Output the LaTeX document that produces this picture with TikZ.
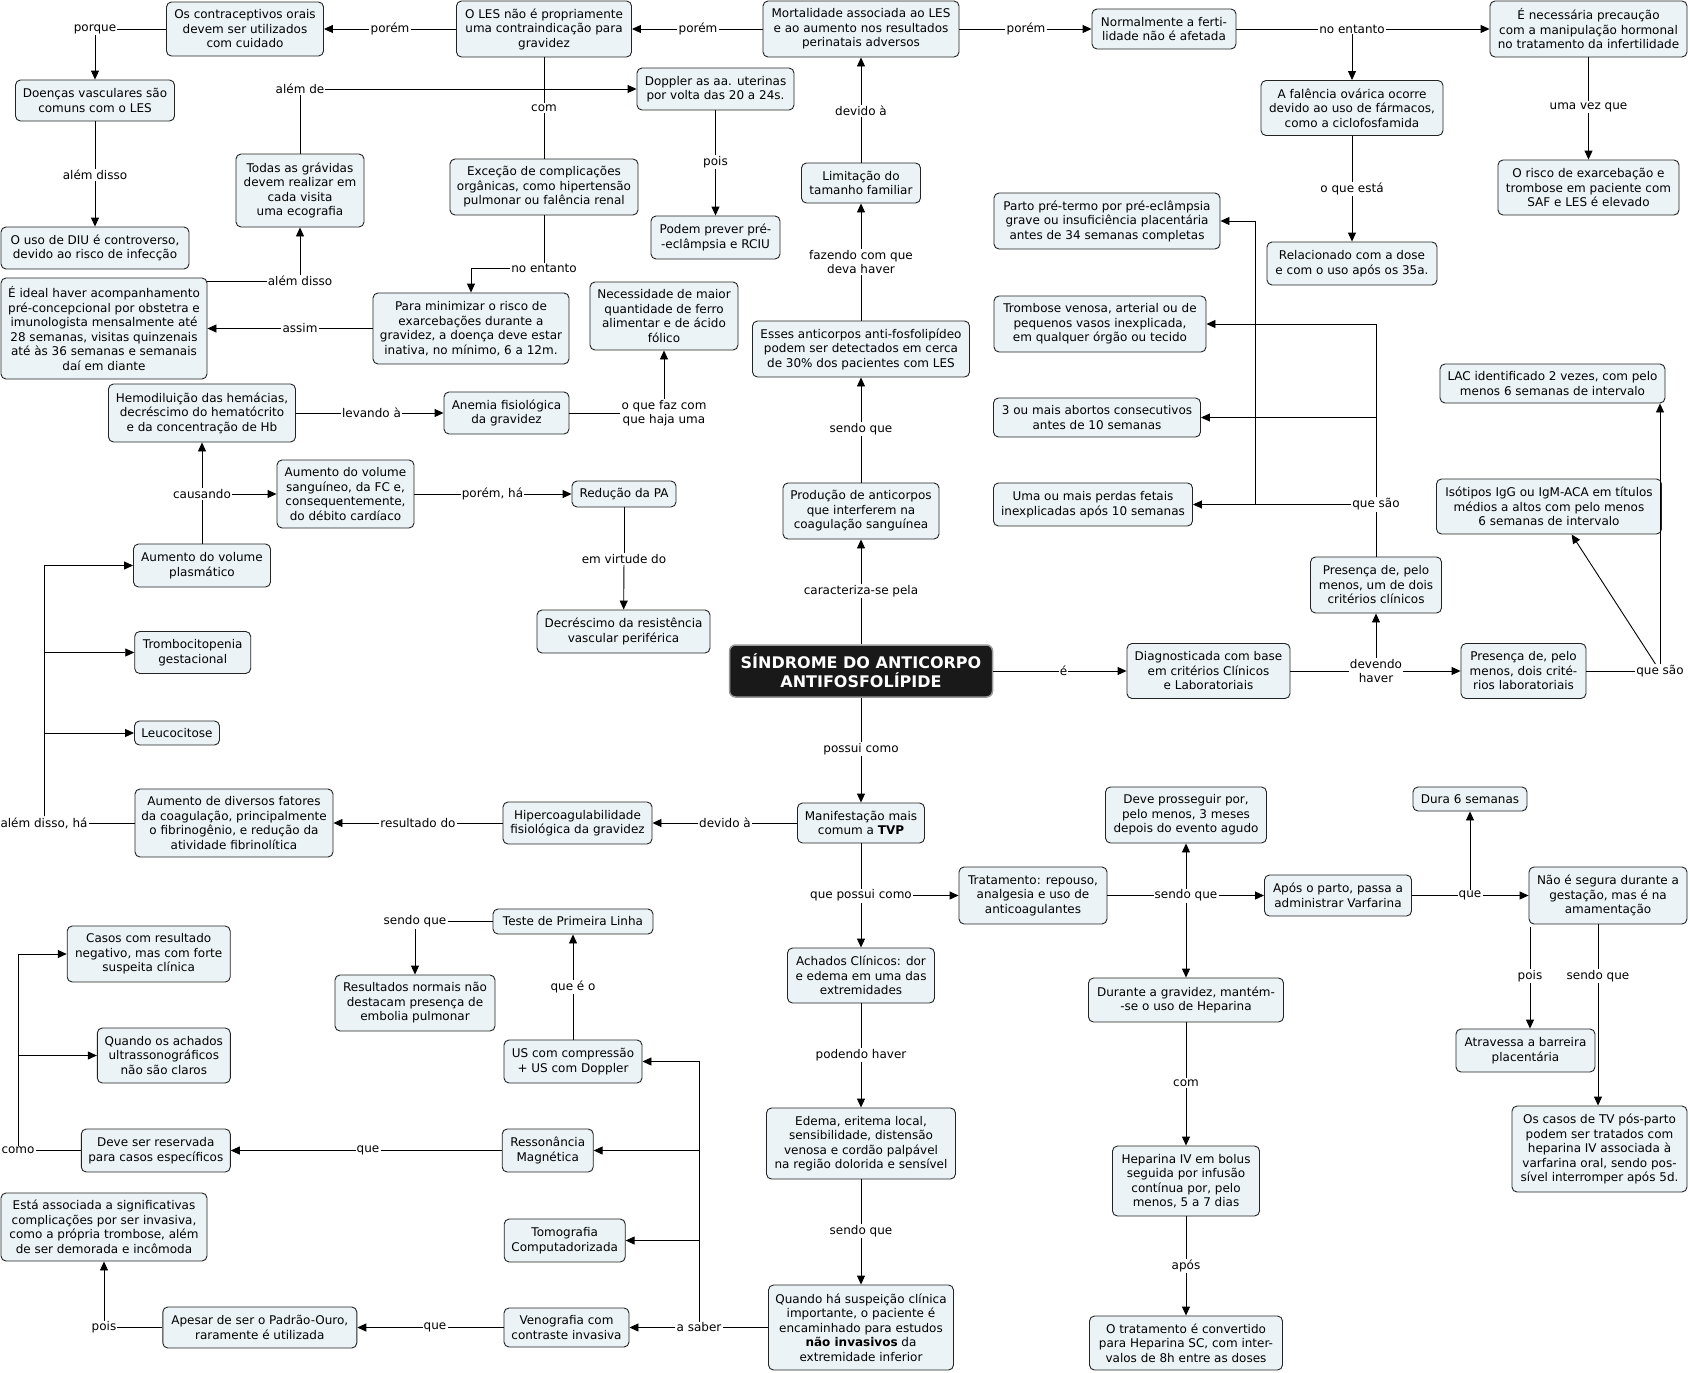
\documentclass[tikz,border=0pt]{standalone}
\usepackage{fontspec}
\setmainfont{DejaVu Sans}
\usepackage{tikz}
\usetikzlibrary{arrows.meta}
\definecolor{boxfill}{RGB}{235,243,246}
\definecolor{boxline}{RGB}{35,35,35}

\tikzset{
  cbox/.style={draw=boxline, fill=boxfill, rounded corners=5pt, align=center, inner sep=1pt, line width=0.9pt},
  saf/.style={draw=black!40, fill=black!90, text=white, rounded corners=6pt, align=center, line width=1.5pt,
    font=\fontsize{16}{19}\selectfont\bfseries},
  wh/.style 2 args={minimum width=#1pt, minimum height=#2pt},
  lbl/.style={fill=white, inner sep=1pt, align=center},
  link/.style={line width=0.9pt},
  arr/.style={link, -{Triangle[length=9pt,width=8pt]}},
}

\begin{document}
\begin{tikzpicture}[x=1pt, y=-1pt, font=\fontsize{12}{14.5}\selectfont]
    \useasboundingbox (0,0) rectangle (1690,1373);

    % central concept
    \node[saf, wh={263}{52}] (saf) at (861,671) {SÍNDROME DO ANTICORPO\\ANTIFOSFOLÍPIDE};

    % top row
    \node[cbox, wh={157}{54}] (contra) at (245,29) {Os contraceptivos orais\\devem ser utilizados\\com cuidado};
    \node[cbox, wh={175}{56}] (les) at (544,29) {O LES não é propriamente\\uma contraindicação para\\gravidez};
    \node[cbox, wh={196}{56}] (mort) at (861,29) {Mortalidade associada ao LES\\e ao aumento nos resultados\\perinatais adversos};
    \node[cbox, wh={144}{40}] (normal) at (1164,29) {Normalmente a ferti-\\lidade não é afetada};
    \node[cbox, wh={197}{56}] (precau) at (1588.5,29) {É necessária precaução\\com a manipulação hormonal\\no tratamento da infertilidade};

    \node[lbl] (lporque) at (95,29) {porque};
    \node[lbl] (lporem1) at (390,29) {porém};
    \node[lbl] (lporem2) at (698,29) {porém};
    \node[lbl] (lporem3) at (1026,29) {porém};
    \node[lbl] (lnoent2) at (1352,29) {no entanto};

    \draw[link] (mort) -- (lporem2);
    \draw[arr] (lporem2) -- (les);
    \draw[link] (les) -- (lporem1);
    \draw[arr] (lporem1) -- (contra);
    \draw[link] (contra) -- (lporque);
    \draw[link] (mort) -- (lporem3);
    \draw[arr] (lporem3) -- (normal);
    \draw[link] (normal) -- (lnoent2);
    \draw[arr] (lnoent2) -- (precau);

    % LES branch
    \node[cbox, wh={159}{41}] (doencas) at (95,100.5) {Doenças vasculares são\\comuns com o LES};
    \node[lbl] (lalem1) at (95,175) {além disso};
    \node[cbox, wh={188}{42}] (diu) at (95,248) {O uso de DIU é controverso,\\devido ao risco de infecção};
    \draw[arr] (lporque) -- (doencas);
    \draw[link] (doencas) -- (lalem1);
    \draw[arr] (lalem1) -- (diu);

    \node[lbl] (lcom) at (544,108) {com};
    \node[cbox, wh={188}{56}] (excecao) at (544,187) {Exceção de complicações\\orgânicas, como hipertensão\\pulmonar ou falência renal};
    \node[lbl] (lnoent1) at (544,268) {no entanto};
    \node[cbox, wh={196}{71}] (minim) at (471,328.5) {Para minimizar o risco de\\exarcebações durante a\\gravidez, a doença deve estar\\inativa, no mínimo, 6 a 12m.};
    \node[lbl] (lassim) at (300,328.5) {assim};
    \node[cbox, wh={206}{101}] (ideal) at (104,328.5) {É ideal haver acompanhamento\\pré-concepcional por obstetra e\\imunologista mensalmente até\\28 semanas, visitas quinzenais\\até às 36 semanas e semanais\\daí em diante};
    \node[lbl] (lalem2) at (300,281) {além disso};
    \node[cbox, wh={128}{73}] (todas) at (300,190.5) {Todas as grávidas\\devem realizar em\\cada visita\\uma ecografia};
    \node[lbl] (lalemde) at (300,89) {além de};
    \node[cbox, wh={157}{42}] (doppler) at (715.5,89) {Doppler as aa. uterinas\\por volta das 20 a 24s.};
    \node[lbl] (lpois1) at (715.5,162) {pois};
    \node[cbox, wh={129}{43}] (podem) at (715.5,237.5) {Podem prever pré-\\-eclâmpsia e RCIU};

    \draw[link] (les) -- (lcom);
    \draw[link] (lcom) -- (excecao);
    \draw[link] (excecao) -- (lnoent1);
    \draw[arr] (lnoent1) -| (minim);
    \draw[link] (minim) -- (lassim);
    \draw[arr] (lassim) -- (ideal);
    \draw[link] (lalem2) -- (lalem2 -| ideal.east);
    \draw[arr] (lalem2) -- (todas);
    \draw[link] (todas) -- (lalemde);
    \draw[arr] (lalemde) -- (doppler);
    \draw[link] (doppler) -- (lpois1);
    \draw[arr] (lpois1) -- (podem);

    % fertility branch
    \node[cbox, wh={182}{55}] (falencia) at (1352,108) {A falência ovárica ocorre\\devido ao uso de fármacos,\\como a ciclofosfamida};
    \node[lbl] (loqueesta) at (1352,189) {o que está};
    \node[cbox, wh={170}{43}] (relac) at (1352,263.5) {Relacionado com a dose\\e com o uso após os 35a.};
    \node[lbl] (lumavez) at (1588.5,107) {uma vez que};
    \node[cbox, wh={181}{55}] (risco) at (1588.5,187.5) {O risco de exarcebação e\\trombose em paciente com\\SAF e LES é elevado};
    \draw[arr] (lnoent2) -- (falencia);
    \draw[link] (falencia) -- (loqueesta);
    \draw[arr] (loqueesta) -- (relac);
    \draw[link] (precau) -- (lumavez);
    \draw[arr] (lumavez) -- (risco);

    % central column, upwards
    \node[lbl] (ldevido1) at (861,111) {devido à};
    \node[cbox, wh={119}{40}] (limit) at (861,183) {Limitação do\\tamanho familiar};
    \node[lbl] (lfazendo) at (861,262) {fazendo com que\\deva haver};
    \node[cbox, wh={217}{56}] (esses) at (861,349) {Esses anticorpos anti-fosfolipídeo\\podem ser detectados em cerca\\de 30\% dos pacientes com LES};
    \node[lbl] (lsendo1) at (861,429) {sendo que};
    \node[cbox, wh={156}{56}] (producao) at (861,511) {Produção de anticorpos\\que interferem na\\coagulação sanguínea};
    \node[lbl] (lcaract) at (861,591) {caracteriza-se pela};
    \draw[link] (saf) -- (lcaract);
    \draw[arr] (lcaract) -- (producao);
    \draw[link] (producao) -- (lsendo1);
    \draw[arr] (lsendo1) -- (esses);
    \draw[link] (esses) -- (lfazendo);
    \draw[arr] (lfazendo) -- (limit);
    \draw[link] (limit) -- (ldevido1);
    \draw[arr] (ldevido1) -- (mort);

    % anemia and volume
    \node[cbox, wh={187}{58}] (hemo) at (202,413) {Hemodiluição das hemácias,\\decréscimo do hematócrito\\e da concentração de Hb};
    \node[lbl] (llevando) at (371.5,413) {levando à};
    \node[cbox, wh={125}{42}] (anemia) at (506.5,413) {Anemia fisiológica\\da gravidez};
    \node[lbl] (loquefaz) at (664,413) {o que faz com\\que haja uma};
    \node[cbox, wh={148}{68}] (necess) at (664,316) {Necessidade de maior\\quantidade de ferro\\alimentar e de ácido\\fólico};
    \draw[link] (hemo) -- (llevando);
    \draw[arr] (llevando) -- (anemia);
    \draw[link] (anemia) -- (loquefaz);
    \draw[arr] (loquefaz) -- (necess);

    \node[lbl] (lcausando) at (202,494) {causando};
    \node[cbox, wh={137}{68}] (aumvol) at (345.5,494) {Aumento do volume\\sanguíneo, da FC e,\\consequentemente,\\do débito cardíaco};
    \node[lbl] (lporemha) at (492.5,494) {porém, há};
    \node[cbox, wh={104}{26}] (reducao) at (624,494) {Redução da PA};
    \node[lbl] (lemvirt) at (624,559) {em virtude do};
    \node[cbox, wh={173}{43}] (decresc) at (623.5,631.5) {Decréscimo da resistência\\vascular periférica};
    \node[cbox, wh={137}{43}] (plasma) at (202,565.5) {Aumento do volume\\plasmático};
    \node[cbox, wh={116}{42}] (tromboc) at (192.7,652.5) {Trombocitopenia\\gestacional};
    \node[cbox, wh={85}{24}] (leuco) at (177,733) {Leucocitose};
    \draw[link] (plasma) -- (lcausando);
    \draw[arr] (lcausando) -- (hemo);
    \draw[arr] (lcausando) -- (aumvol);
    \draw[link] (aumvol) -- (lporemha);
    \draw[arr] (lporemha) -- (reducao);
    \draw[link] (reducao) -- (lemvirt);
    \draw[arr] (lemvirt) -- (decresc);

    % hypercoagulability
    \node[lbl] (lpossui) at (861,749) {possui como};
    \node[cbox, wh={127}{40}] (manif) at (861,823) {Manifestação mais\\comum a \textbf{TVP}};
    \node[lbl] (ldevido2) at (725,823) {devido à};
    \node[cbox, wh={149}{42}] (hiper) at (577.5,823) {Hipercoagulabilidade\\fisiológica da gravidez};
    \node[lbl] (lresult) at (418,823) {resultado do};
    \node[cbox, wh={198}{68}] (fatores) at (234,823) {Aumento de diversos fatores\\da coagulação, principalmente\\o fibrinogênio, e redução da\\atividade fibrinolítica};
    \node[lbl] (lalemha) at (44,823) {além disso, há};
    \draw[link] (saf) -- (lpossui);
    \draw[arr] (lpossui) -- (manif);
    \draw[link] (manif) -- (ldevido2);
    \draw[arr] (ldevido2) -- (hiper);
    \draw[link] (hiper) -- (lresult);
    \draw[arr] (lresult) -- (fatores);
    \draw[link] (fatores) -- (lalemha);
    \draw[arr] (lalemha) |- (plasma);
    \draw[arr] (lalemha) |- (tromboc);
    \draw[arr] (lalemha) |- (leuco);

    % diagnosis
    \node[lbl] (le) at (1063.5,671) {é};
    \node[cbox, wh={163}{55}] (diag) at (1208.5,671) {Diagnosticada com base\\em critérios Clínicos\\e Laboratoriais};
    \node[lbl] (ldevendo) at (1376,671) {devendo\\haver};
    \node[cbox, wh={125}{55}] (lab) at (1523.5,671) {Presença de, pelo\\menos, dois crité-\\rios laboratoriais};
    \node[lbl] (lquesao2) at (1660,671) {que são};
    \node[cbox, wh={131}{56}] (clin) at (1376,585) {Presença de, pelo\\menos, um de dois\\critérios clínicos};
    \node[lbl] (lquesao1) at (1376,504.5) {que são};
    \node[cbox, wh={226}{56}] (parto) at (1107,221) {Parto pré-termo por pré-eclâmpsia\\grave ou insuficiência placentária\\antes de 34 semanas completas};
    \node[cbox, wh={212}{56}] (trombose) at (1100,324) {Trombose venosa, arterial ou de\\pequenos vasos inexplicada,\\em qualquer órgão ou tecido};
    \node[cbox, wh={207}{39}] (abortos) at (1097,417.5) {3 ou mais abortos consecutivos\\antes de 10 semanas};
    \node[cbox, wh={199}{43}] (perdas) at (1093,504.5) {Uma ou mais perdas fetais\\inexplicadas após 10 semanas};
    \node[cbox, wh={225}{39}] (lac) at (1552.5,383.5) {LAC identificado 2 vezes, com pelo\\menos 6 semanas de intervalo};
    \node[cbox, wh={225}{55}] (isot) at (1549,506.5) {Isótipos IgG ou IgM-ACA em títulos\\médios a altos com pelo menos\\6 semanas de intervalo};
    \coordinate (jparto) at (1255,504.5);

    \draw[link] (saf) -- (le);
    \draw[arr] (le) -- (diag);
    \draw[link] (diag) -- (ldevendo);
    \draw[arr] (ldevendo) -- (lab);
    \draw[arr] (ldevendo) -- (clin);
    \draw[link] (clin) -- (lquesao1);
    \draw[arr] (lquesao1) -- (perdas);
    \draw[arr] (lquesao1) |- (trombose);
    \draw[arr] (lquesao1) |- (abortos);
    \draw[arr] (jparto) |- (parto);
    \draw[link] (lab) -- (lquesao2);
    \draw[arr] (lquesao2) -- (lquesao2 |- lac.south);
    \draw[arr] (lquesao2) -- (isot.-51);

    % treatment
    \node[lbl] (lqueposs) at (861,895.5) {que possui como};
    \node[cbox, wh={148}{57}] (trat) at (1033,895.5) {Tratamento: repouso,\\analgesia e uso de\\anticoagulantes};
    \node[lbl] (lsendo2) at (1186,895.5) {sendo que};
    \node[cbox, wh={161}{56}] (prosseg) at (1186,815) {Deve prosseguir por,\\pelo menos, 3 meses\\depois do evento agudo};
    \node[cbox, wh={147}{41}] (apos) at (1338,895.5) {Após o parto, passa a\\administrar Varfarina};
    \node[lbl] (lque3) at (1470,895.5) {que};
    \node[cbox, wh={114}{24}] (dura) at (1470,799) {Dura 6 semanas};
    \node[cbox, wh={158}{57}] (naoseg) at (1608,895.5) {Não é segura durante a\\gestação, mas é na\\amamentação};
    \node[lbl] (lpois3) at (1530,976) {pois};
    \node[lbl] (lsendo4) at (1598,976) {sendo que};
    \node[cbox, wh={139}{43}] (barreira) at (1525.5,1050.5) {Atravessa a barreira\\placentária};
    \node[cbox, wh={175}{86}] (casostv) at (1599.5,1149) {Os casos de TV pós-parto\\podem ser tratados com\\heparina IV associada à\\varfarina oral, sendo pos-\\sível interromper após 5d.};
    \node[cbox, wh={195}{44}] (durante) at (1186,1000) {Durante a gravidez, mantém-\\-se o uso de Heparina};
    \node[lbl] (lcom2) at (1186,1083) {com};
    \node[cbox, wh={147}{70}] (hepar) at (1186,1181) {Heparina IV em bolus\\seguida por infusão\\contínua por, pelo\\menos, 5 a 7 dias};
    \node[lbl] (lapos2) at (1186,1266) {após};
    \node[cbox, wh={193}{54}] (convert) at (1186,1343) {O tratamento é convertido\\para Heparina SC, com inter-\\valos de 8h entre as doses};

    \draw[link] (manif) -- (lqueposs);
    \draw[arr] (lqueposs) -- (trat);
    \draw[link] (trat) -- (lsendo2);
    \draw[arr] (lsendo2) -- (apos);
    \draw[arr] (lsendo2) -- (prosseg);
    \draw[arr] (lsendo2) -- (durante);
    \draw[link] (apos) -- (lque3);
    \draw[arr] (lque3) -- (naoseg);
    \draw[arr] (lque3) -- (dura);
    \draw[link] ([yshift=-3pt]lpois3 |- naoseg.south) -- (lpois3);
    \draw[arr] (lpois3) -- (lpois3 |- barreira.north);
    \draw[link] (lsendo4 |- naoseg.south) -- (lsendo4);
    \draw[arr] (lsendo4) -- (lsendo4 |- casostv.north);
    \draw[link] (durante) -- (lcom2);
    \draw[arr] (lcom2) -- (hepar);
    \draw[link] (hepar) -- (lapos2);
    \draw[arr] (lapos2) -- (convert);

    % clinical findings and exams
    \node[cbox, wh={147}{55}] (achados) at (861,975.5) {Achados Clínicos: dor\\e edema em uma das\\extremidades};
    \node[lbl] (lpodendo) at (861,1055) {podendo haver};
    \node[cbox, wh={189}{71}] (edema) at (861,1143.5) {Edema, eritema local,\\sensibilidade, distensão\\venosa e cordão palpável\\na região dolorida e sensível};
    \node[lbl] (lsendo3) at (861,1231) {sendo que};
    \node[cbox, wh={185}{85}] (suspeita) at (861,1327.5) {Quando há suspeição clínica\\importante, o paciente é\\encaminhado para estudos\\\textbf{não invasivos} da\\extremidade inferior};
    \node[lbl] (lasaber) at (699,1327.5) {a saber};
    \node[cbox, wh={138}{43}] (us) at (573,1061.5) {US com compressão\\+ US com Doppler};
    \node[lbl] (lqueeo) at (573,987) {que é o};
    \node[cbox, wh={160}{25}] (teste) at (573,921.5) {Teste de Primeira Linha};
    \node[lbl] (lsendo5) at (415,921.5) {sendo que};
    \node[cbox, wh={160}{56}] (normais) at (415,1003) {Resultados normais não\\destacam presença de\\embolia pulmonar};
    \node[cbox, wh={91}{43}] (resson) at (547.7,1150.5) {Ressonância\\Magnética};
    \node[cbox, wh={121}{43}] (tomog) at (564.7,1240.5) {Tomografia\\Computadorizada};
    \node[cbox, wh={125}{39}] (venog) at (566.5,1327.5) {Venografia com\\contraste invasiva};
    \node[lbl] (lque4) at (368,1150.5) {que};
    \node[cbox, wh={149}{43}] (reserv) at (155.8,1150.5) {Deve ser reservada\\para casos específicos};
    \node[lbl] (lcomo) at (18,1150.5) {como};
    \node[cbox, wh={163}{56}] (casos) at (148.7,954) {Casos com resultado\\negativo, mas com forte\\suspeita clínica};
    \node[cbox, wh={133}{55}] (achus) at (163.8,1055.5) {Quando os achados\\ultrassonográficos\\não são claros};
    \node[lbl] (lque5) at (435,1327.5) {que};
    \node[cbox, wh={194}{41}] (apesar) at (259.8,1327.5) {Apesar de ser o Padrão-Ouro,\\raramente é utilizada};
    \node[lbl] (lpois2) at (104,1327.5) {pois};
    \node[cbox, wh={206}{68}] (esta) at (104,1227) {Está associada a significativas\\complicações por ser invasiva,\\como a própria trombose, além\\de ser demorada e incômoda};

    \draw[arr] (lqueposs) -- (achados);
    \draw[link] (achados) -- (lpodendo);
    \draw[arr] (lpodendo) -- (edema);
    \draw[link] (edema) -- (lsendo3);
    \draw[arr] (lsendo3) -- (suspeita);
    \draw[link] (suspeita) -- (lasaber);
    \draw[arr] (lasaber) -- (venog);
    \draw[arr] (lasaber) |- (us);
    \draw[arr] (lasaber) |- (resson);
    \draw[arr] (lasaber) |- (tomog);
    \draw[link] (us) -- (lqueeo);
    \draw[arr] (lqueeo) -- (teste);
    \draw[link] (teste) -- (lsendo5);
    \draw[arr] (lsendo5) -- (normais);
    \draw[link] (resson) -- (lque4);
    \draw[arr] (lque4) -- (reserv);
    \draw[link] (reserv) -- (lcomo);
    \draw[arr] (lcomo) |- (casos);
    \draw[arr] (lcomo) |- (achus);
    \draw[link] (venog) -- (lque5);
    \draw[arr] (lque5) -- (apesar);
    \draw[link] (apesar) -- (lpois2);
    \draw[arr] (lpois2) -- (esta);
\end{tikzpicture}
\end{document}
